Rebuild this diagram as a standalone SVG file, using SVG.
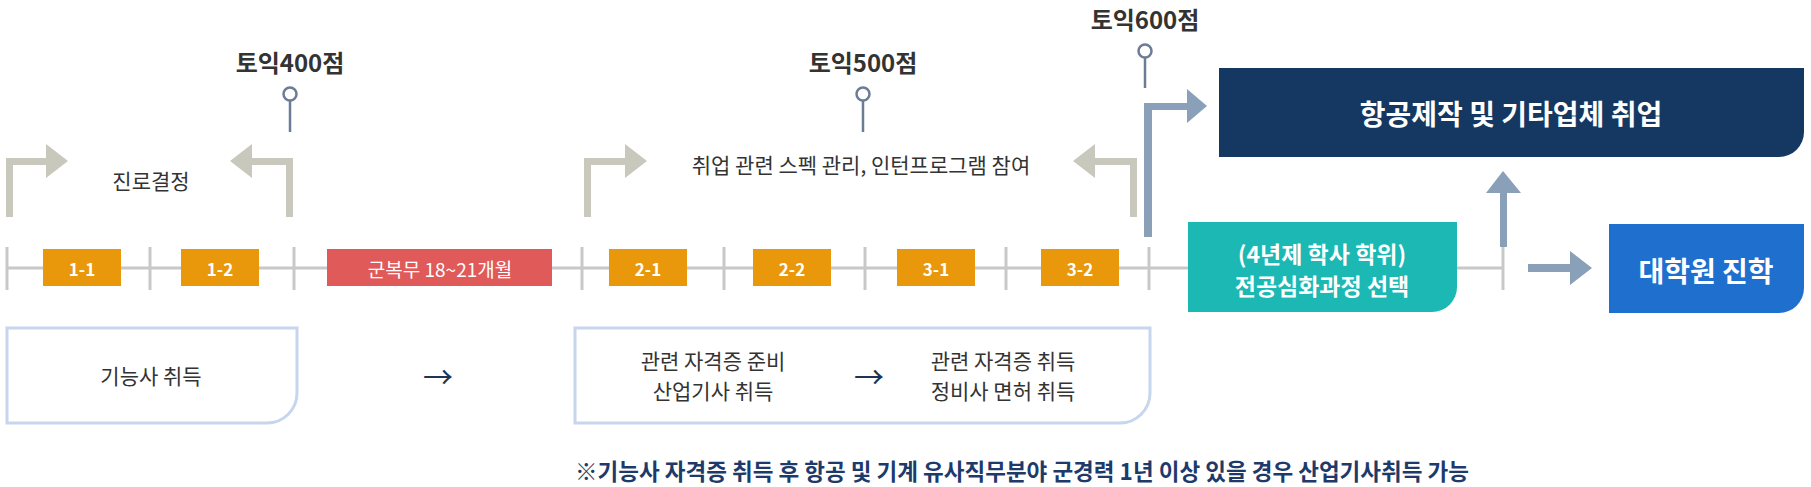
<svg xmlns="http://www.w3.org/2000/svg" width="1811" height="487" viewBox="0 0 1811 487">
<defs><style>
text{font-family:"Noto Sans CJK KR","Noto Sans",sans-serif;text-anchor:middle;dominant-baseline:central}
.t{font-size:21px;fill:#333}
.h{font-size:24px;font-weight:bold;fill:#333}
.w{fill:#fff;font-weight:bold}
.sem{fill:#e8980a}
.tick{stroke:#c8c8c8;stroke-width:3}
.ga{fill:#c8c8bc}
.ba{fill:#8a9fb8}
.pin{stroke:#6b7d95;stroke-width:2.5;fill:#fff}
.box{fill:#fff;stroke:#c5d6ee;stroke-width:3}
.arr{font-size:30px;fill:#1d3555}
</style></defs>
<g id="connectors">
<line x1="7" y1="268" x2="1188" y2="268" class="tick"/>
<line x1="1457" y1="268" x2="1503" y2="268" class="tick"/>
<line x1="7" y1="247" x2="7" y2="290" class="tick"/>
<line x1="150" y1="247" x2="150" y2="290" class="tick"/>
<line x1="294" y1="247" x2="294" y2="290" class="tick"/>
<line x1="582" y1="247" x2="582" y2="290" class="tick"/>
<line x1="724" y1="247" x2="724" y2="290" class="tick"/>
<line x1="865" y1="247" x2="865" y2="290" class="tick"/>
<line x1="1006" y1="247" x2="1006" y2="290" class="tick"/>
<line x1="1149" y1="247" x2="1149" y2="290" class="tick"/>
<line x1="1503" y1="247" x2="1503" y2="290" class="tick"/>
<path class="ga" d="M6 217V158H46V144L68 161L46 178V165H13V217Z"/>
<path class="ga" d="M293 217V158H252V144L230 161L252 178V165H286V217Z"/>
<path class="ga" d="M584 217V158H625V144L647 161L625 178V165H591V217Z"/>
<path class="ga" d="M1137 217V158H1095V144L1073 161L1095 178V165H1130V217Z"/>
<path class="ba" d="M1144 237V103H1187V89L1207 106L1187 123V110H1152V237Z"/>
<path class="ba" d="M1500 247V193H1486L1503 171L1521 193H1507V247Z"/>
<path class="ba" d="M1528 264H1570V251L1592 268L1570 285V272H1528Z"/>
<line x1="290" y1="100" x2="290" y2="132" class="pin"/><circle cx="290" cy="94" r="6.5" class="pin"/>
<line x1="863" y1="100" x2="863" y2="132" class="pin"/><circle cx="863" cy="94" r="6.5" class="pin"/>
<line x1="1145" y1="57" x2="1145" y2="88" class="pin"/><circle cx="1145" cy="51" r="6.5" class="pin"/>
</g>
<g id="labels">
<text x="290" y="61" class="h">토익400점</text>
<text x="863" y="61" class="h">토익500점</text>
<text x="1145" y="18" class="h">토익600점</text>
<text x="151" y="180" class="t">진로결정</text>
<text x="861" y="164" class="t" font-size="22">취업 관련 스펙 관리, 인턴프로그램 참여</text>
</g>
<g id="s11"><rect x="43" y="249" width="78" height="37" class="sem"/><text x="82" y="268" class="w" font-size="17">1-1</text></g>
<g id="s12"><rect x="181" y="249" width="78" height="37" class="sem"/><text x="220" y="268" class="w" font-size="17">1-2</text></g>
<g id="army"><rect x="327" y="249" width="225" height="37" fill="#e05a5a"/><text x="440" y="268" fill="#fff" font-size="19">군복무 18~21개월</text></g>
<g id="s21"><rect x="609" y="249" width="78" height="37" class="sem"/><text x="648" y="268" class="w" font-size="17">2-1</text></g>
<g id="s22"><rect x="753" y="249" width="78" height="37" class="sem"/><text x="792" y="268" class="w" font-size="17">2-2</text></g>
<g id="s31"><rect x="897" y="249" width="78" height="37" class="sem"/><text x="936" y="268" class="w" font-size="17">3-1</text></g>
<g id="s32"><rect x="1041" y="249" width="78" height="37" class="sem"/><text x="1080" y="268" class="w" font-size="17">3-2</text></g>
<g id="cert1"><path class="box" d="M7 328H297V393A30 30 0 0 1 267 423H7Z"/><text x="151" y="375" class="t">기능사 취득</text></g>
<text x="438" y="375" class="arr">→</text>
<g id="cert2"><path class="box" d="M575 328H1150V393A30 30 0 0 1 1120 423H575Z"/>
<text x="713" y="360" class="t">관련 자격증 준비</text><text x="713" y="390" class="t">산업기사 취득</text>
<text x="869" y="375" class="arr">→</text>
<text x="1003" y="360" class="t">관련 자격증 취득</text><text x="1003" y="390" class="t">정비사 면허 취득</text></g>
<g id="major"><path d="M1188 222H1457V287A25 25 0 0 1 1432 312H1188Z" fill="#1bb8b4"/>
<text x="1322" y="253" class="w" font-size="23">(4년제 학사 학위)</text><text x="1322" y="285" class="w" font-size="23">전공심화과정  선택</text></g>
<g id="job"><path d="M1219 68H1804V132A25 25 0 0 1 1779 157H1219Z" fill="#143862"/><text x="1511" y="113" class="w" font-size="28">항공제작 및 기타업체 취업</text></g>
<g id="grad"><path d="M1609 224H1804V288A25 25 0 0 1 1779 313H1609Z" fill="#1e6fce"/><text x="1706" y="270" class="w" font-size="28">대학원 진학</text></g>
<text x="1022" y="470" font-size="22.5" font-weight="bold" fill="#1d3a6b">※기능사 자격증 취득 후 항공 및 기계 유사직무분야 군경력 1년 이상 있을 경우 산업기사취득 가능</text>
</svg>
